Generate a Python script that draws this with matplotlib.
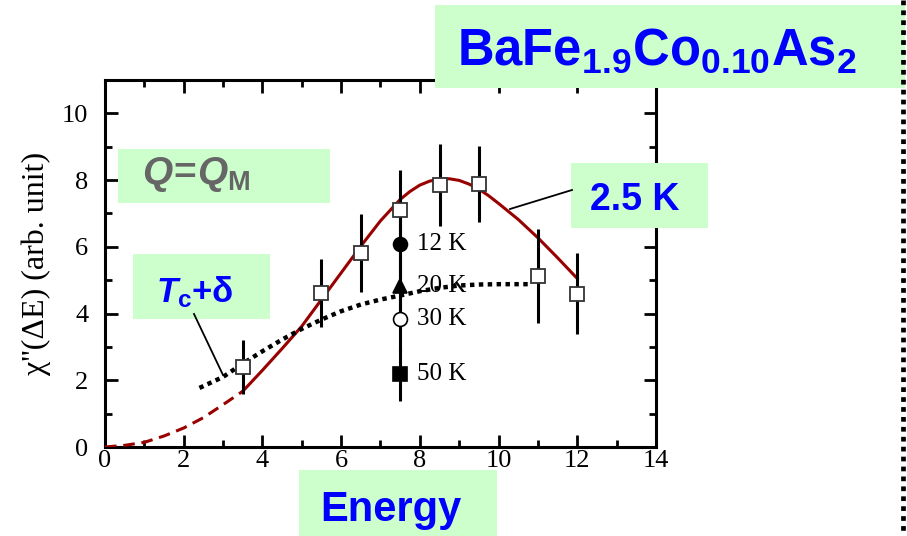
import numpy as np
import matplotlib
matplotlib.use('Agg')
import matplotlib.pyplot as plt
from matplotlib.patches import Rectangle
from matplotlib.lines import Line2D

plt.rcParams['mathtext.fontset'] = 'custom'
plt.rcParams['mathtext.rm'] = 'Liberation Sans:bold'
plt.rcParams['mathtext.it'] = 'Liberation Sans:bold:italic'
plt.rcParams['mathtext.bf'] = 'Liberation Sans:bold'

# 2.5 K data with error bars
energy = [3.5, 5.5, 6.5, 7.5, 8.5, 9.5, 11.0, 12.0]
chi_2p5K = [2.4, 4.62, 5.82, 7.1, 7.85, 7.88, 5.12, 4.6]
err_2p5K = [0.8, 1.02, 1.16, 1.2, 1.22, 1.15, 1.4, 1.22]

# higher temperatures, all taken at 7.5
temp_labels = ['12 K', '20 K', '30 K', '50 K']
chi_temps = [6.07, 4.82, 3.84, 2.19]
err_temps = [1.0, 1.0, 1.0, 0.82]
e_temps = 7.5

# guide line through 2.5 K points (solid part)
fit_x = [3.5, 4.0, 4.5, 5.0, 5.5, 6.0, 6.5, 7.0, 7.5, 7.75, 8.0, 8.25, 8.5, 8.75,
         9.0, 9.25, 9.5, 9.75, 10.0, 10.5, 11.0, 11.5, 12.0]
fit_y = [1.67, 2.3, 2.95, 3.62, 4.42, 5.22, 6.02, 6.78, 7.42, 7.66, 7.85, 7.97, 8.03, 8.04,
         7.99, 7.88, 7.73, 7.53, 7.3, 6.82, 6.27, 5.67, 5.05]
# extrapolated part (dashed)
ext_x = [0.0, 0.5, 1.0, 1.5, 2.0, 2.5, 3.0, 3.5]
ext_y = [0.0, 0.05, 0.14, 0.33, 0.57, 0.88, 1.27, 1.67]

# Tc + delta guide line
tc_x = [2.4, 3.0, 3.5, 4.0, 4.5, 5.0, 5.5, 6.0, 6.5, 7.0, 7.5, 8.0, 8.5, 9.0, 9.5, 10.0, 10.8]
tc_y = [1.77, 2.1, 2.5, 2.87, 3.22, 3.54, 3.82, 4.07, 4.27, 4.42, 4.54, 4.67, 4.77, 4.84, 4.87, 4.88, 4.88]

W, H = 907, 536
green = '#ccffcc'
blue = '#0000ff'
darkred = '#990000'


def fx(x):
    return x / W


def fy(y):
    return 1 - y / H


fig = plt.figure(figsize=(W / 100, H / 100), dpi=100)
ax = fig.add_axes([fx(105), fy(447), fx(656) - fx(105), fy(80) - fy(447)])

ax.plot(ext_x, ext_y, color=darkred, lw=2.2, ls=(0, (3.8, 2.2)), zorder=3)
ax.plot(fit_x, fit_y, color=darkred, lw=2.2, zorder=3)
ax.plot(tc_x, tc_y, color='black', lw=3.2, ls=(0, (1, 1)), dash_capstyle='butt', zorder=3)

ax.errorbar(energy, chi_2p5K, yerr=err_2p5K, fmt='none', ecolor='black', elinewidth=2.2, capsize=0, zorder=4)
ax.errorbar([e_temps] * 4, chi_temps, yerr=err_temps, fmt='none', ecolor='black', elinewidth=2.2, capsize=0, zorder=4)
ax.plot(energy, chi_2p5K, 's', ms=10, mfc='white', mec='#333333', mew=1.3, zorder=5)

mk = ['o', '^', 'o', 's']
fc = ['black', 'black', 'white', 'black']
for m, f, yv, lab in zip(mk, fc, chi_temps, temp_labels):
    ax.plot(e_temps, yv, m, ms=10, mfc=f, mec='black', mew=1.2, zorder=6)
    ax.text(7.93, yv, lab, family='Liberation Serif', fontsize=18, va='center', ha='left', zorder=6)

ax.set_xlim(0, 14)
ax.set_ylim(0, 11)
ax.set_xticks(np.arange(0, 15, 2))
ax.set_xticks(np.arange(1, 14, 2), minor=True)
ax.set_yticks(np.arange(0, 11, 2))
ax.set_yticks(np.arange(1, 11, 2), minor=True)
ax.tick_params(which='both', direction='in', top=True, right=True, width=2, labelsize=19)
ax.tick_params(which='major', length=9)
ax.tick_params(which='minor', length=5)
for lbl in ax.get_xticklabels() + ax.get_yticklabels():
    lbl.set_family('Liberation Serif')
ax.tick_params(axis='x', pad=2)
ax.tick_params(axis='y', pad=12)
for s in ax.spines.values():
    s.set_linewidth(2.2)

ax.set_ylabel("\u03c7''(\u0394E) (arb. unit)", family='Liberation Serif', fontsize=23)
ax.yaxis.set_label_coords(fx(51), fy(263), transform=fig.transFigure)


# annotation boxes
def box(x0, y0, x1, y1):
    fig.patches.append(Rectangle((fx(x0), fy(y1)), fx(x1) - fx(x0), fy(y0) - fy(y1),
                                 transform=fig.transFigure, facecolor=green, edgecolor='none', zorder=10))


box(118, 149, 330, 203)
fig.text(fx(142), fy(184), r'$Q\!=\!Q_\mathrm{M}$', color='#666666', fontsize=28, ha='left', va='baseline', zorder=11)

box(133, 254, 270, 319)
fig.text(fx(156), fy(302), r'$T_\mathrm{c}\mathrm{+\delta}$', color=blue, fontsize=25, ha='left', va='baseline', zorder=11)
fig.lines.append(Line2D([fx(194), fx(223)], [fy(314), fy(375)], transform=fig.transFigure, color='black', lw=1.3, zorder=11))

box(571, 163, 708, 228)
fig.text(fx(635), fy(210), '2.5 K', color=blue, family='Liberation Sans', weight='bold', fontsize=27,
         ha='center', va='baseline', zorder=11)
fig.lines.append(Line2D([fx(510), fx(572)], [fy(209), fy(190)], transform=fig.transFigure, color='black', lw=1.3, zorder=11))

box(435, 5, 905, 88)
fig.text(fx(457), fy(65), r'$\mathrm{BaFe}_{1.9}\mathrm{Co}_{0.10}\mathrm{As}_{2}$', color=blue, fontsize=36.5,
         ha='left', va='baseline', zorder=11)

box(299, 470, 497, 536)
fig.text(fx(391), fy(521), 'Energy', color=blue, family='Liberation Sans', weight='bold', fontsize=30,
         ha='center', va='baseline', zorder=11)

# dotted separator on the right edge
fig.lines.append(Line2D([fx(903), fx(903)], [1, 0], transform=fig.transFigure, color='black', lw=3.4,
                        ls=(0, (1, 1.1)), dash_capstyle='butt', zorder=12))

fig.savefig('out.png', dpi=100)
